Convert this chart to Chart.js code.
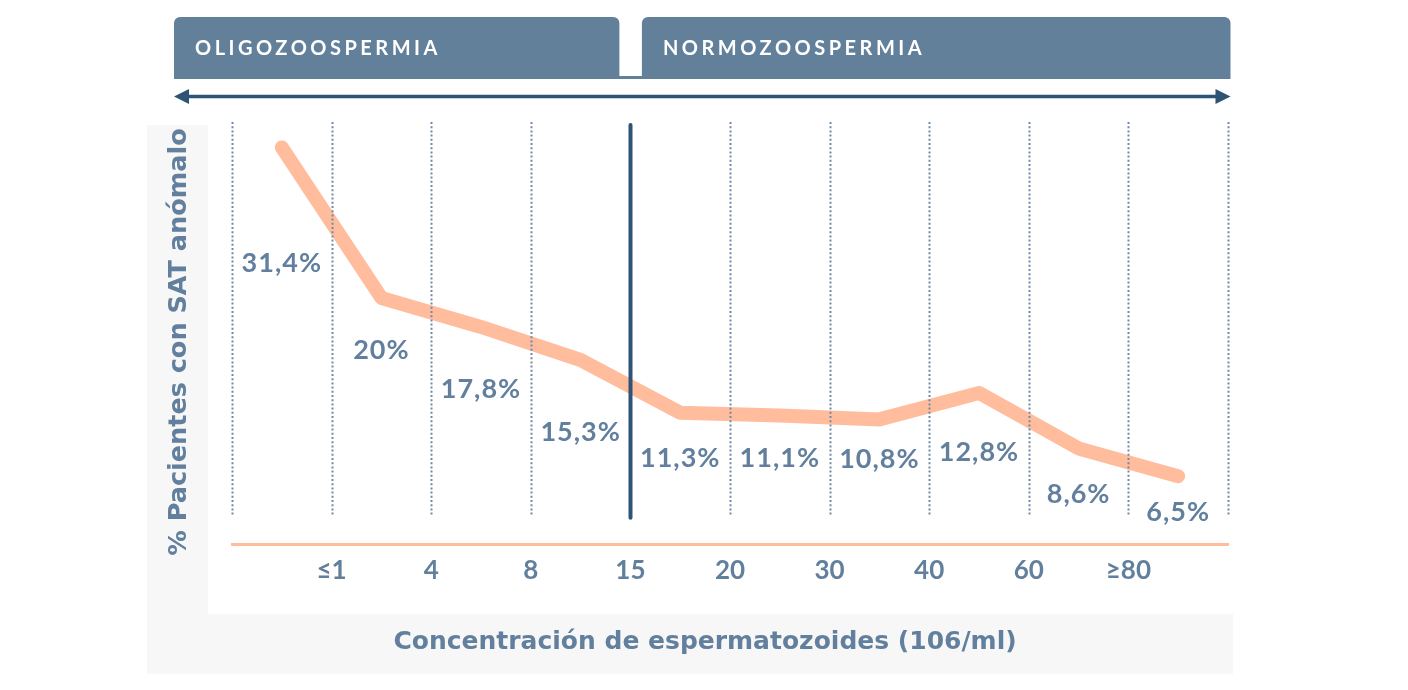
<!DOCTYPE html>
<html>
<head>
<meta charset="utf-8">
<script src="https://cdn.jsdelivr.net/npm/chart.js@4.4.1/dist/chart.umd.min.js"></script>
<style>
  html, body { margin: 0; padding: 0; background: #fff; }
  canvas { display: block; }
</style>
</head>
<body>
<canvas id="chart" width="1408" height="690"></canvas>
<script>
// tick labels sit on the bin boundaries, values on the bin centres
const tickLabels = ['', '≤1', '4', '8', '15', '20', '30', '40', '60', '≥80', ''];
const pctValues = [31.4, 20, 17.8, 15.3, 11.3, 11.1, 10.8, 12.8, 8.6, 6.5];
const groups = ['OLIGOZOOSPERMIA', 'NORMOZOOSPERMIA'];
const splitAt = 4; // boundary "15"

const SLATE = '#62809e';
const NAVY = '#2e5375';
const SALMON = '#ffbd9e';
const FONT = 'Lato, "Open Sans", sans-serif';
const TITLE_FONT = '"DejaVu Sans", sans-serif';

const fmt = v => String(v).replace('.', ',') + '%';

const decor = {
  id: 'decor',
  beforeDraw(chart) {
    const { ctx, chartArea: a } = chart;
    // grey frame behind the plot
    ctx.save();
    ctx.fillStyle = '#f7f7f7';
    ctx.fillRect(a.left - 85, a.top, a.right - a.left + 90, a.bottom - a.top + 129);
    ctx.fillStyle = '#fff';
    ctx.fillRect(a.left - 24, a.top, a.right - a.left + 29, a.bottom - a.top + 69);
    ctx.restore();
  },
  afterDatasetsDraw(chart, args, opts) {
    const { ctx, chartArea: a, scales: { x, y } } = chart;
    ctx.save();
    // vertical guides
    for (let i = 0; i < tickLabels.length; i++) {
      const px = Math.round(x.getPixelForValue(i)) + 0.5;
      ctx.beginPath();
      if (i === splitAt) {
        ctx.strokeStyle = NAVY;
        ctx.lineWidth = 4;
        ctx.lineCap = 'round';
        ctx.setLineDash([]);
        ctx.moveTo(px, a.top);
        ctx.lineTo(px, a.bottom - 27);
      } else {
        ctx.strokeStyle = '#7189a4';
        ctx.lineWidth = 2;
        ctx.lineCap = 'butt';
        ctx.setLineDash([2, 2.2]);
        ctx.moveTo(px, a.top - 3);
        ctx.lineTo(px, a.bottom - 29);
      }
      ctx.stroke();
    }
    ctx.setLineDash([]);

    // value labels
    ctx.fillStyle = SLATE;
    ctx.font = 'bold 27px ' + FONT;
    ctx.letterSpacing = '1px';
    ctx.textAlign = 'center';
    ctx.textBaseline = 'middle';
    pctValues.forEach((v, i) => {
      ctx.fillText(fmt(v), x.getPixelForValue(i + 0.5), y.getPixelForValue(opts.labelAt[i]));
    });
    ctx.letterSpacing = '0px';

    // axis titles
    ctx.font = 'bold 25px ' + TITLE_FONT;
    ctx.fillText('Concentración de espermatozoides (106/ml)', a.left + 473, a.bottom + 98);
    ctx.font = 'bold 25.5px ' + TITLE_FONT;
    ctx.translate(a.left - 53, a.top + 217);
    ctx.rotate(-Math.PI / 2);
    ctx.fillText('% Pacientes con SAT anómalo', 0, 0);
    ctx.restore();

    // group banners + arrow
    ctx.save();
    const mid = x.getPixelForValue(splitAt);
    const bTop = a.top - 108, bBot = a.top - 46;
    const boxes = [
      [a.left - 58, mid - 11],
      [mid + 11.5, a.right + 2.5]
    ];
    ctx.fillStyle = '#63809b';
    boxes.forEach(([l, r]) => {
      ctx.beginPath();
      ctx.roundRect(l, bTop, r - l, bBot - bTop, [6, 6, 0, 0]);
      ctx.fill();
    });
    ctx.fillRect(boxes[0][1] - 1, bBot - 3, boxes[1][0] - boxes[0][1] + 2, 3);
    ctx.fillStyle = '#fff';
    ctx.font = 'bold 20px ' + FONT;
    ctx.letterSpacing = '3.5px';
    ctx.textAlign = 'left';
    ctx.textBaseline = 'middle';
    groups.forEach((g, i) => ctx.fillText(g, boxes[i][0] + 21, (bTop + bBot) / 2 + 1));
    ctx.letterSpacing = '0px';

    const ay = a.top - 28.5, al = boxes[0][0], ar = boxes[1][1];
    ctx.strokeStyle = NAVY;
    ctx.fillStyle = NAVY;
    ctx.lineWidth = 3.5;
    ctx.beginPath();
    ctx.moveTo(al + 10, ay);
    ctx.lineTo(ar - 10, ay);
    ctx.stroke();
    ctx.beginPath();
    ctx.moveTo(al, ay); ctx.lineTo(al + 15, ay - 7.5); ctx.lineTo(al + 15, ay + 7.5); ctx.closePath();
    ctx.moveTo(ar, ay); ctx.lineTo(ar - 15, ay - 7.5); ctx.lineTo(ar - 15, ay + 7.5); ctx.closePath();
    ctx.fill();
    ctx.restore();
  }
};

new Chart(document.getElementById('chart'), {
  type: 'line',
  data: {
    datasets: [{
      data: pctValues.map((v, i) => ({ x: i + 0.5, y: v })),
      borderColor: SALMON,
      borderWidth: 14,
      borderCapStyle: 'round',
      borderJoinStyle: 'round',
      pointRadius: 0,
      tension: 0,
      clip: false
    }]
  },
  options: {
    responsive: false,
    animation: false,
    layout: { padding: { left: 232, right: 180, top: 125, bottom: 94 } },
    plugins: {
      legend: { display: false },
      tooltip: { enabled: false },
      decor: { labelAt: [22.6, 16.0, 13.05, 9.86, 7.84, 7.84, 7.8, 8.3, 5.1, 3.77] }
    },
    scales: {
      x: {
        type: 'linear',
        min: 0,
        max: tickLabels.length - 1,
        grid: { display: false, drawTicks: false },
        border: { display: true, color: SALMON, width: 3 },
        ticks: {
          stepSize: 1,
          autoSkip: false,
          maxRotation: 0,
          padding: 10,
          color: SLATE,
          font: { family: FONT, size: 26, weight: 'bold' },
          callback: v => tickLabels[v]
        }
      },
      y: {
        display: false,
        min: 1.3,
        max: 33.1
      }
    }
  },
  plugins: [decor]
});
</script>
</body>
</html>
